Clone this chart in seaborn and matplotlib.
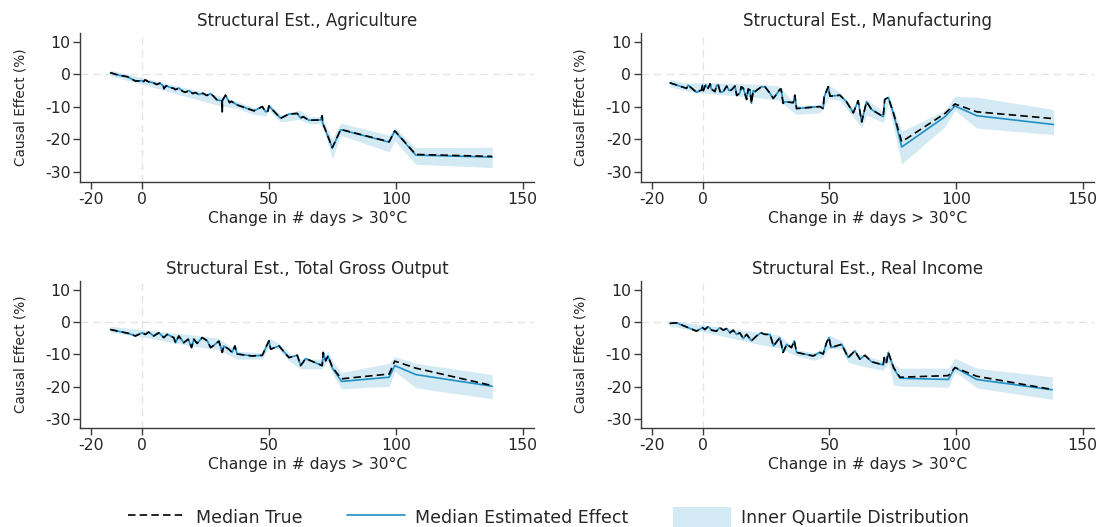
import matplotlib
matplotlib.use("Agg")
import matplotlib.pyplot as plt
from matplotlib.lines import Line2D
from matplotlib.patches import Patch
import seaborn as sns
import pandas as pd

""" 0. Data (read off the reference figure) """
titles = ["Structural Est., Agriculture", "Structural Est., Manufacturing",
          "Structural Est., Total Gross Output", "Structural Est., Real Income"]

######### Agriculture #########
agr_x = [-12.5, -9, -5.9, -2.6, 0, 0.5, 1.2, 2.6, 4, 5.9, 7, 8.4, 8.6, 9.5, 11, 12.5, 13.2, 14.5, 16, 17.1,
         18.5, 20, 21, 22.5, 24, 25.5, 27, 28, 29.6, 31.5, 31.6, 31.7, 32.9, 34.5, 35.2, 37.5, 44.1, 47.4,
         48.7, 49.6, 50, 54.6, 57.9, 61.2, 62.5, 63.5, 65.8, 70.4, 71.0, 71.2, 72, 75, 78.3, 97.4, 99.6,
         107.9, 138]
agr_true = [0.5, -0.3, -0.7, -2.05, -1.95, -2.3, -1.7, -2.3, -2.5, -3.1, -2.7, -3.6, -4.4, -3.5, -4.0, -4.3,
            -4.7, -4.2, -5.2, -5.5, -5.0, -5.9, -5.6, -6.2, -5.8, -6.5, -5.9, -6.6, -7.9, -8.1, -11.5, -8.0,
            -6.4, -8.7, -8.3, -9.4, -11.2, -9.9, -11.5, -11.3, -9.7, -13.5, -12.2, -12.0, -13.4, -13.0, -14.1,
            -14.0, -12.7, -15.0, -16.5, -22.5, -16.9, -20.7, -17.3, -24.6, -25.2]
agr_est = [0.5, -0.3, -0.7, -2.05, -1.95, -2.3, -1.7, -2.3, -2.5, -3.1, -2.7, -3.6, -4.4, -3.5, -4.0, -4.3,
           -4.7, -4.2, -5.2, -5.5, -5.0, -5.9, -5.6, -6.2, -5.8, -6.5, -5.9, -6.6, -7.9, -8.1, -11.5, -8.0,
           -6.4, -8.7, -8.3, -9.4, -11.2, -9.9, -11.5, -11.3, -9.7, -13.5, -12.2, -12.0, -13.4, -13.0, -14.1,
           -14.0, -12.7, -15.0, -16.5, -22.6, -17.0, -20.8, -17.4, -24.8, -25.4]
agr_band_x = [-12.5, 0, 15, 30, 37.5, 44, 48.7, 50, 54.6, 62, 66, 70.4, 72, 75, 78.3, 97.4, 99.6, 107.9, 138]
agr_lo = [-0.5, -3.0, -6.3, -9.5, -10.5, -12.3, -12.8, -11.0, -14.6, -13.8, -15.2, -15.2, -18.0, -25.8,
          -18.7, -23.8, -20.4, -27.6, -28.6]
agr_hi = [1.3, -1.0, -3.8, -6.5, -8.3, -10.2, -10.5, -9.0, -12.4, -11.0, -13.0, -13.0, -15.0, -19.7,
          -15.0, -18.7, -16.3, -22.5, -22.4]

######### Manufacturing #########
man_x = [-12.9, -6.3, -5.7, -2.4, -0.4, 0, 0.3, 1.2, 2.2, 3.0, 3.6, 4.9, 5.5, 6.2, 7, 8.2, 9.5, 10.5, 11.4,
         12.8, 13.5, 14.7, 15.3, 16.1, 17.4, 18, 18.7, 19.3, 20.0, 20.7, 22, 23.3, 24.6, 26.6, 27.9, 29.3,
         30.5, 31.0, 31.8, 32.5, 35.8, 36.4, 37.1, 46.3, 47.6, 48.0, 49.6, 50.3, 54.2, 56.8, 59.5, 61.4,
         62.8, 64.7, 66.7, 71.3, 71.9, 73.3, 75.4, 78.6, 95.7, 99.6, 108.2, 138.5]
man_true = [-2.6, -4.3, -3.3, -5.5, -4.8, -3.3, -5.0, -3.2, -4.3, -2.9, -4.6, -5.3, -3.4, -3.3, -5.5, -5.3,
            -3.6, -5.0, -4.8, -3.6, -6.5, -5.8, -3.8, -4.3, -7.7, -4.5, -4.8, -8.9, -5.0, -5.3, -4.5, -3.8,
            -3.8, -5.8, -7.4, -6.0, -4.6, -4.5, -8.9, -8.4, -8.7, -6.4, -10.5, -9.9, -10.5, -6.9, -3.8, -6.7,
            -6.4, -8.4, -11.8, -8.1, -14.6, -8.4, -10.8, -13.0, -7.7, -7.1, -12.0, -20.7, -12.0, -9.1,
            -11.5, -13.6]
man_est = [-2.6, -4.3, -3.3, -5.5, -4.8, -3.3, -5.0, -3.2, -4.3, -2.9, -4.6, -5.3, -3.4, -3.3, -5.5, -5.3,
           -3.6, -5.0, -4.8, -3.6, -6.5, -5.8, -3.8, -4.3, -7.7, -4.5, -4.8, -8.9, -5.0, -5.3, -4.5, -3.8,
           -3.8, -5.8, -7.4, -6.0, -4.6, -4.5, -8.9, -8.4, -8.7, -6.4, -10.5, -9.9, -10.5, -6.9, -3.8, -6.7,
           -6.4, -8.4, -11.8, -8.1, -14.6, -8.4, -10.8, -13.0, -7.7, -7.1, -12.2, -22.3, -13.0, -9.7,
           -12.7, -15.4]
man_band_x = [-12.9, -6, 0, 20, 30, 37, 46.3, 49.6, 54, 59.5, 62.8, 64.7, 71.3, 73.3, 78.6, 95.7, 99.6,
              108.2, 138.5]
man_lo = [-3.8, -5.2, -5.8, -7.0, -8.0, -12.3, -11.8, -7.5, -8.0, -13.0, -16.5, -12.5, -14.8, -9.0, -27.5,
          -16.0, -11.0, -16.5, -18.5]
man_hi = [-1.5, -2.8, -2.5, -3.0, -3.5, -9.5, -9.3, -3.0, -5.5, -10.5, -12.5, -7.5, -11.5, -6.0, -17.5,
          -11.0, -6.8, -7.0, -10.8]

######### Total Gross Output #########
tgo_x = [-12.5, -5.3, -2.6, 0, 1.3, 2.6, 4.6, 6.6, 8.6, 9.9, 12.5, 13.2, 14.5, 16.4, 18.2, 19.5, 20.4, 21.7,
         23.7, 25.7, 27, 28.3, 30.3, 31.6, 32.2, 34.2, 35.5, 36.6, 37.5, 43.4, 47.4, 50, 50.7, 54, 57.9,
         61.2, 62.5, 64.5, 71, 71.4, 72.4, 73.3, 75, 78.6, 97.4, 99.6, 108, 138]
tgo_true = [-2.3, -3.5, -4.3, -3.3, -3.8, -3.1, -4.3, -3.3, -4.8, -3.8, -4.8, -6.4, -4.3, -6.4, -5.3, -7.9,
            -5.3, -6.6, -4.8, -5.8, -7.9, -7.2, -5.9, -9.4, -7.4, -8.4, -9.4, -7.4, -9.9, -10.5, -10.3, -5.8,
            -8.4, -7.4, -11.0, -10.3, -13.5, -11.3, -13.5, -9.4, -12.0, -10.5, -14.0, -17.6, -16.1, -12.1,
            -14.3, -19.7]
tgo_est = [-2.3, -3.5, -4.3, -3.3, -3.8, -3.1, -4.3, -3.3, -4.8, -3.8, -4.8, -6.4, -4.3, -6.4, -5.3, -7.9,
           -5.3, -6.6, -4.8, -5.8, -7.9, -7.2, -5.9, -9.4, -7.4, -8.4, -9.4, -7.4, -9.9, -10.5, -10.3, -5.8,
           -8.4, -7.4, -11.0, -10.3, -13.5, -11.3, -13.5, -9.4, -12.0, -10.5, -14.2, -18.4, -17.1, -13.5,
           -16.3, -19.9]
tgo_band_x = [-12.5, 0, 20, 30, 37.5, 47.4, 50, 54, 57.9, 62.5, 71, 73.3, 75, 78.6, 97.4, 99.6, 108, 138]
tgo_lo = [-3.2, -4.5, -7.5, -8.5, -11.5, -11.5, -7.5, -8.5, -12.0, -14.5, -14.5, -12.0, -16.0, -20.7,
          -19.9, -15.3, -20.4, -23.8]
tgo_hi = [-1.3, -2.3, -4.0, -5.0, -9.0, -9.5, -5.0, -6.5, -9.5, -11.5, -11.5, -9.0, -12.0, -15.6, -12.8,
          -10.7, -12.8, -16.3]

######### Real Income #########
inc_x = [-12.9, -10.3, -5.7, -2.4, 0, 0.9, 2.2, 3.6, 5.5, 6.8, 8.2, 9.5, 10.8, 12.1, 13.4, 14.7, 16.1, 17.4,
         19.3, 21.3, 23, 24.6, 26.6, 28, 30.5, 31.8, 33.2, 35.1, 36.2, 37.1, 43.7, 46.2, 47.6, 48.9, 49.9,
         50.7, 54.9, 57.5, 60.1, 62.1, 64.1, 66.7, 71.3, 71.7, 72.6, 73.3, 75.4, 77.9, 97, 99.6, 108.2, 138]
inc_true = [-0.4, -0.2, -1.7, -2.8, -1.7, -2.3, -1.4, -2.5, -2.8, -1.7, -2.5, -2.0, -3.3, -2.5, -3.8, -3.3,
            -5.1, -3.8, -5.8, -4.3, -3.3, -3.8, -3.8, -7.4, -4.8, -9.4, -6.9, -7.9, -5.8, -9.4, -10.5, -9.4,
            -9.9, -6.4, -4.8, -7.9, -6.9, -11.0, -8.9, -11.5, -10.3, -12.3, -13.3, -11.0, -12.5, -9.4, -14.1,
            -17.1, -16.6, -14.1, -16.8, -20.9]
inc_est = [-0.4, -0.2, -1.7, -2.8, -1.7, -2.3, -1.4, -2.5, -2.8, -1.7, -2.5, -2.0, -3.3, -2.5, -3.8, -3.3,
           -5.1, -3.8, -5.8, -4.3, -3.3, -3.8, -3.8, -7.4, -4.8, -9.4, -6.9, -7.9, -5.8, -9.4, -10.5, -9.4,
           -9.9, -6.4, -4.8, -7.9, -6.9, -11.0, -8.9, -11.5, -10.3, -12.3, -13.3, -11.0, -12.5, -9.4, -14.3,
           -17.4, -17.8, -14.1, -17.8, -21.0]
inc_band_x = [-12.9, 0, 20, 30, 37.1, 43.7, 47.6, 49.9, 54.9, 57.5, 62.1, 71.3, 73.3, 75.4, 77.9, 97, 99.6,
              108.2, 138]
inc_lo = [-1.2, -3.0, -6.5, -8.0, -10.5, -11.8, -11.0, -8.0, -8.5, -12.5, -13.5, -15.0, -12.5, -19.5, -19.9,
          -20.2, -15.3, -20.4, -24.0]
inc_hi = [0.5, -0.8, -3.0, -4.0, -8.5, -9.5, -8.5, -4.0, -5.8, -9.5, -10.0, -12.0, -8.5, -13.0, -14.3,
          -14.3, -11.2, -14.3, -17.0]

panels = [
    (agr_x, agr_true, agr_est, agr_band_x, agr_lo, agr_hi),
    (man_x, man_true, man_est, man_band_x, man_lo, man_hi),
    (tgo_x, tgo_true, tgo_est, tgo_band_x, tgo_lo, tgo_hi),
    (inc_x, inc_true, inc_est, inc_band_x, inc_lo, inc_hi),
]

""" 1. Plot """
sns.set_style("white")
plt.rcParams['font.family'] = ['DejaVu Sans']

BLUE = "#1f8fc6"
BAND = "#d3e9f3"
AXCOL = "#3a3a3a"

fig = plt.figure(figsize=(10.97, 5.27), dpi=100)
positions = [[0.0733, 0.655, 0.4135, 0.283], [0.5843, 0.655, 0.4130, 0.283],
             [0.0733, 0.187, 0.4135, 0.280], [0.5843, 0.187, 0.4130, 0.280]]

for i, (xs, y_true, y_est, bx, lo, hi) in enumerate(panels):
    ax = fig.add_axes(positions[i])
    df = pd.DataFrame({"x": xs, "true": y_true, "est": y_est})
    band = pd.DataFrame({"x": bx, "lo": lo, "hi": hi})

    ax.axhline(0, color="#e3e3e3", lw=0.9, ls=(0, (6, 4)), zorder=0)
    ax.axvline(0, color="#e3e3e3", lw=0.9, ls=(0, (6, 4)), zorder=0)
    ax.fill_between(band["x"], band["lo"], band["hi"], color=BAND, lw=0, zorder=1)
    sns.lineplot(data=df, x="x", y="est", ax=ax, color=BLUE, lw=1.2, sort=False, estimator=None, zorder=2)
    sns.lineplot(data=df, x="x", y="true", ax=ax, color="black", lw=1.2, sort=False, estimator=None,
                 dashes=False, zorder=3)
    ax.lines[-1].set_dashes((4.5, 2.5))

    ax.set_xlim(-24.3, 154.5)
    ax.set_ylim(-33, 12.8)
    ax.set_xticks([-20, 0, 50, 100, 150])
    ax.set_yticks([10, 0, -10, -20, -30])
    ax.set_xticklabels(["-20", "0", "50", "100", "150"])
    ax.set_yticklabels(["10", "0", "-10", "-20", "-30"])
    for s in ["top", "right"]:
        ax.spines[s].set_visible(False)
    for s in ["left", "bottom"]:
        ax.spines[s].set_color(AXCOL)
        ax.spines[s].set_linewidth(1.0)
    ax.tick_params(axis="both", direction="out", length=5, width=1, color=AXCOL, labelsize=11.3, pad=2,
                   bottom=True, left=True)
    ax.set_xlabel("Change in # days > 30°C", fontsize=11.2, labelpad=3)
    ax.set_ylabel("Causal Effect (%)", fontsize=9.8, labelpad=13)
    ax.set_title(titles[i], fontsize=12, pad=5)

handles = [Line2D([], [], color="black", lw=1.2, dashes=(4.5, 2.5)),
           Line2D([], [], color=BLUE, lw=1.2),
           Patch(facecolor=BAND, edgecolor="none")]
labels = ["Median True", "Median Estimated Effect", "Inner Quartile Distribution"]
fig.legend(handles, labels, loc="center", bbox_to_anchor=(0.5, 0.018), ncol=3, frameon=False, fontsize=12.5,
           handlelength=3.3, handleheight=1.5, handletextpad=0.6, columnspacing=2.6)

plt.savefig("out.png", dpi=100)
